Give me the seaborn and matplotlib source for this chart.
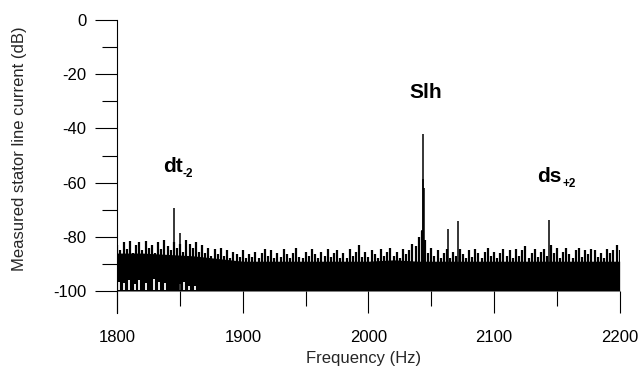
import numpy as np
import matplotlib
matplotlib.use('Agg')
import matplotlib.pyplot as plt
import seaborn as sns

# upper edge of the noise floor, one value every 2.5 Hz (1800 ... 2200 Hz), in dB
noise_freq = np.arange(1800, 2200.1, 2.5)
noise_top = [
    -83, -85, -82, -84.5, -81.5, -86, -83, -82,
    -85, -81.5, -84, -83, -86, -82, -84.5, -81,
    -83.5, -85, -82, -84, -82.5, -85.5, -81, -82.5,
    -84, -82, -85.5, -83, -86, -84, -87, -84.5,
    -86.5, -84, -87, -85, -88, -85.5, -86.5, -87.5,
    -85, -88, -86.5, -87.5, -85.5, -88, -86, -84.5,
    -87, -85, -88, -86, -87.5, -84.5, -86.5, -88,
    -86, -84, -87.5, -88, -85.5, -87, -84.5, -86.5,
    -88, -85.5, -87, -84.5, -87.5, -86, -85, -88,
    -86, -88, -84.5, -87, -85.5, -83, -87.5, -85.5,
    -87.5, -85, -86.5, -88, -84.5, -87, -85.5, -84,
    -87, -85.5, -88, -84.5, -86.5, -85, -82.5, -83.5,
    -80, -78, -81, -86, -84, -87, -85, -88,
    -86, -84.5, -88, -85.5, -87, -84.5, -86.5, -88,
    -85, -87.5, -84.5, -86, -88, -85.5, -84, -87,
    -85.5, -88, -86, -84.5, -87, -85, -88, -84.5,
    -87, -85, -83.5, -88, -86, -84.5, -87.5, -85.5,
    -84.5, -87, -83, -86, -84, -88, -85.5, -84,
    -86.5, -88, -85, -84, -87.5, -85, -86.5, -84.5,
    -85, -87.5, -86, -88, -84.5, -86, -85, -83,
    -85,
]

# solid part of the noise band, every 20 Hz
body_freq = np.arange(1800, 2200.1, 20)
body_top = [-86, -86, -86.5, -87, -88, -89, -89, -89, -89, -89, -89,
            -88.5, -89, -89, -89, -89, -89, -89, -89, -89, -89]

# white dropouts near the bottom of the band (low frequency end)
gap_freq = [1801.5, 1805, 1809, 1814, 1817, 1823, 1829, 1833, 1838, 1850, 1853, 1857, 1862]
gap_top = [-96.5, -97, -96, -97.5, -96, -97, -95.5, -96.5, -97, -97.5, -96.5, -98, -98]

# harmonic peaks
peak_freq = [1844.8, 1849.8, 2042.8, 2043.2, 2043.5, 2043.9, 2063.1, 2071.1, 2143.5]
peak_db = [-69.4, -78.6, -77.5, -58.7, -42.1, -62.0, -77.1, -74.2, -73.8]

sns.set_theme(style='ticks')
plt.rcParams['font.family'] = ['Liberation Sans', 'DejaVu Sans']
plt.rcParams['axes.unicode_minus'] = False

fig = plt.figure(figsize=(6.41, 3.67), dpi=100)
ax = fig.add_axes([0.183, 0.148, 0.7837, 0.7975])

ax.fill_between(body_freq, -100, body_top, color='black', lw=0)
ax.vlines(noise_freq, -100, noise_top, color='black', lw=1.6)
ax.vlines(gap_freq, -99.6, gap_top, color='white', lw=1.3)
ax.vlines(peak_freq, -100, peak_db, color='black', lw=1.1)

ax.set_xlim(1800, 2200)
ax.set_ylim(-108, 0)
ax.set_xticks([1800, 1900, 2000, 2100, 2200])
ax.set_xticks([1850, 1950, 2050, 2150], minor=True)
ax.set_yticks([0, -20, -40, -60, -80, -100])
ax.set_yticks([-10, -30, -50, -70, -90], minor=True)

for s in ['top', 'right', 'bottom']:
    ax.spines[s].set_visible(False)
ax.spines['bottom'].set_position(('data', -100))
ax.spines['left'].set_color('black')
ax.spines['left'].set_linewidth(0.8)

ax.tick_params(axis='both', which='major', length=16, width=0.8, color='black',
               labelsize=12, labelcolor='black')
ax.tick_params(axis='both', which='minor', length=11, width=0.8, color='black')
ax.tick_params(axis='x', which='major', pad=12)
ax.tick_params(axis='y', which='major', pad=6)

ax.set_xlabel('')
ax.set_ylabel('')
fig.text(364 / 641, 1 - 359 / 367, 'Frequency (Hz)', ha='center', va='center', fontsize=12)
fig.text(20 / 641, 1 - 148.5 / 367, 'Measured stator line current (dB)',
         ha='center', va='center', rotation=90, fontsize=12)

bold = dict(fontweight='bold', color='black', va='baseline', ha='left')
ax.text(1836.4, -56.2, 'dt', fontsize=15, **bold)
ax.text(1852.3, -57.9, '-2', fontsize=8.5, **bold)
ax.text(2134.3, -59.8, 'ds', fontsize=15, **bold)
ax.text(2154.1, -61.6, '+2', fontsize=8.5, **bold)
ax.text(2045.8, -28.8, 'Slh', fontsize=15, fontweight='bold', color='black',
        va='baseline', ha='center')

fig.savefig('out.png', dpi=100)
